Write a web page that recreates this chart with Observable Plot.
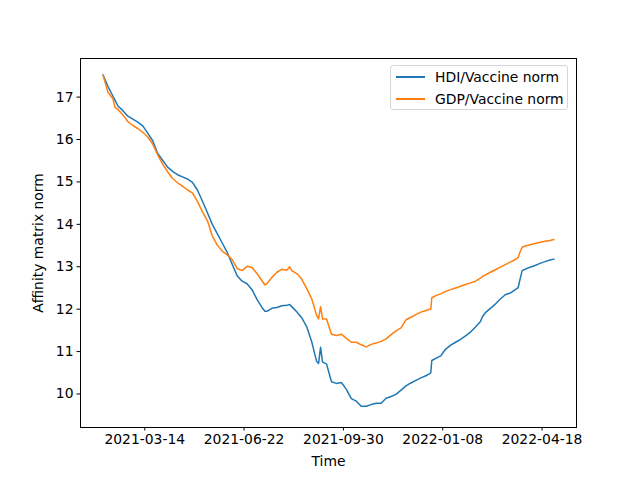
<!DOCTYPE html>
<html>
<head>
<meta charset="utf-8">
<script src="https://cdn.jsdelivr.net/npm/d3@7"></script>
<script src="https://cdn.jsdelivr.net/npm/@observablehq/plot@0.6"></script>
<style>
  body { margin: 0; background: white; }
  #wrap { position: relative; width: 640px; height: 480px; font-family: "DejaVu Sans", sans-serif; }
  #legend { position: absolute; left: 390px; top: 65px; width: 178px; height: 45px;
    border: 1px solid #d6d6d6; border-radius: 3px; background: rgba(255,255,255,0.8); box-sizing: border-box; }
  .row { position: absolute; left: 0; height: 16px; font-size: 13.9px; line-height: 16px; color: black; white-space: nowrap; }
  .swatch { position: absolute; left: 5px; top: 7px; width: 29px; height: 0; border-top: 2px solid; }
  .lab { position: absolute; left: 44px; top: 0; }
</style>
</head>
<body>
<div id="wrap"></div>
<script>
const startDate = "2021-01-31";
const dayOffsets = [0,5,10,12,15,20,25,30,35,40,45,50,55,60,65,70,75,80,85,90,
  95,100,105,110,115,120,125,130,135,140,145,150,155,160,163,165,170,175,180,185,
  188,190,195,200,205,210,215,217,219,221,225,230,235,240,245,250,255,260,265,270,
  275,280,285,290,295,300,305,310,315,320,325,328,330,331,335,340,345,350,355,360,
  365,370,375,380,382,385,390,395,400,405,410,415,418,420,422,425,430,435,440,445,
  450,454];
const hdiNorm = [17.52,17.25,17.02,16.93,16.79,16.68,16.55,16.48,16.41,16.32,16.15,15.97,15.67,15.51,15.35,15.25,15.17,15.12,15.07,14.99,
  14.81,14.55,14.28,14.00,13.78,13.56,13.34,13.06,12.79,12.66,12.60,12.46,12.23,12.04,11.95,11.95,12.02,12.04,12.08,12.09,
  12.11,12.06,11.94,11.80,11.59,11.24,10.77,10.72,11.10,10.75,10.71,10.29,10.25,10.27,10.11,9.89,9.83,9.71,9.71,9.75,
  9.78,9.78,9.90,9.94,9.99,10.09,10.19,10.26,10.32,10.38,10.43,10.47,10.50,10.79,10.84,10.90,11.06,11.15,11.22,11.29,
  11.37,11.46,11.58,11.71,11.82,11.92,12.02,12.12,12.24,12.34,12.38,12.46,12.51,12.72,12.91,12.94,12.99,13.03,13.08,13.12,
  13.16,13.18];
const gdpNorm = [17.52,17.11,16.96,16.76,16.71,16.58,16.42,16.33,16.26,16.17,16.06,15.89,15.64,15.42,15.24,15.08,14.98,14.90,14.81,14.74,
  14.54,14.30,14.09,13.73,13.51,13.37,13.28,13.17,12.96,12.91,13.01,12.98,12.84,12.67,12.57,12.60,12.75,12.87,12.94,12.92,
  13.00,12.91,12.84,12.71,12.49,12.25,11.86,11.77,12.06,11.77,11.77,11.41,11.38,11.41,11.31,11.22,11.22,11.16,11.11,11.17,
  11.20,11.24,11.30,11.40,11.49,11.56,11.75,11.81,11.87,11.93,11.97,11.99,12.00,12.27,12.32,12.36,12.42,12.46,12.50,12.54,
  12.58,12.62,12.66,12.73,12.77,12.81,12.87,12.93,12.99,13.05,13.11,13.17,13.22,13.36,13.46,13.49,13.52,13.55,13.58,13.60,
  13.62,13.64];
const seriesNames = ["HDI/Vaccine norm", "GDP/Vaccine norm"];
const seriesColors = ["#1f77b4", "#ff7f0e"];
const xTickLabels = ["2021-03-14", "2021-06-22", "2021-09-30", "2022-01-08", "2022-04-18"];
const yTickValues = [10, 11, 12, 13, 14, 15, 16, 17];

const DAY = 864e5;
const start = new Date(startDate + "T00:00:00Z");
const dates = dayOffsets.map(d => new Date(+start + d * DAY));
const rows = [];
dates.forEach((t, i) => rows.push({date: t, value: hdiNorm[i], series: seriesNames[0]}));
dates.forEach((t, i) => rows.push({date: t, value: gdpNorm[i], series: seriesNames[1]}));

const [t0, t1] = d3.extent(dates);
const tpad = (t1 - t0) * 0.05;

const chart = Plot.plot({
  width: 640, height: 480,
  marginLeft: 80, marginRight: 64, marginTop: 58, marginBottom: 53,
  style: {fontFamily: "DejaVu Sans", fontSize: "13.9px", background: "white", color: "black"},
  x: {type: "utc", domain: [new Date(+t0 - tpad), new Date(+t1 + tpad)]},
  y: {domain: [9.21, 17.91]},
  color: {domain: seriesNames, range: seriesColors},
  marks: [
    Plot.axisX({ticks: xTickLabels.map(s => new Date(s + "T00:00:00Z")), tickFormat: d3.utcFormat("%Y-%m-%d"),
      tickSize: 3.5, tickPadding: 3.5, label: "Time", labelAnchor: "center", labelArrow: "none", labelOffset: 38}),
    Plot.axisY({ticks: yTickValues, tickFormat: d => String(d), tickSize: 3.5, tickPadding: 3.5,
      label: "Affinity matrix norm", labelAnchor: "center", labelArrow: "none", labelOffset: 47}),
    Plot.line(rows, {x: "date", y: "value", stroke: "series", strokeWidth: 1.5, z: "series"}),
    Plot.frame({stroke: "black", strokeWidth: 1})
  ]
});
const wrap = document.getElementById("wrap");
wrap.appendChild(chart);

const legend = document.createElement("div");
legend.id = "legend";
seriesNames.forEach((name, i) => {
  const row = document.createElement("div");
  row.className = "row";
  row.style.top = (3 + i * 22) + "px";
  row.style.width = "100%";
  const sw = document.createElement("div");
  sw.className = "swatch";
  sw.style.borderColor = seriesColors[i];
  const lab = document.createElement("div");
  lab.className = "lab";
  lab.textContent = name;
  row.appendChild(sw); row.appendChild(lab);
  legend.appendChild(row);
});
wrap.appendChild(legend);
</script>
</body>
</html>
